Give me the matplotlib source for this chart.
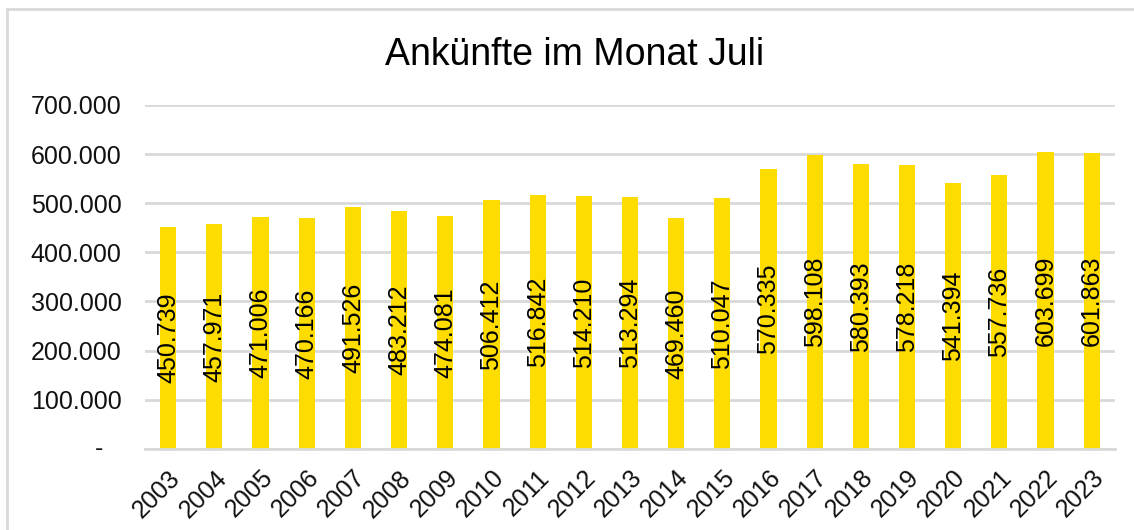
import matplotlib
matplotlib.use("Agg")
import matplotlib.pyplot as plt
from matplotlib.lines import Line2D
from matplotlib.ticker import FuncFormatter

plt.rcParams['font.family'] = ['Liberation Sans', 'DejaVu Sans']

years = [str(y) for y in range(2003, 2024)]
arrivals = [450739, 457971, 471006, 470166, 491526, 483212, 474081, 506412,
            516842, 514210, 513294, 469460, 510047, 570335, 598108, 580393,
            578218, 541394, 557736, 603699, 601863]
title = "Ankünfte im Monat Juli"

BAR_COLOR = '#FFDC00'
GRID_COLOR = '#D9D9D9'


def de_format(v):
    # German thousands separator
    return f"{int(round(v)):,}".replace(",", ".")


fig = plt.figure(figsize=(11.34, 5.30), dpi=100)
ax = fig.add_axes([0.128, 0.153, 0.855, 0.649])

x = range(len(years))
bars = ax.bar(x, arrivals, width=0.35, color=BAR_COLOR, zorder=2)
for rect, val in zip(bars, arrivals):
    ax.text(rect.get_x() + rect.get_width() / 2, val / 2, de_format(val),
            rotation=90, ha='center', va='center', fontsize=18, color='black', zorder=3)

ax.set_xlim(-0.5, len(years) - 0.5)
ax.set_ylim(0, 700000)
ax.set_yticks(range(0, 700001, 100000))
# zero is written separately as an accounting-style dash
ax.yaxis.set_major_formatter(FuncFormatter(lambda v, p: "" if v == 0 else de_format(v)))
ax.annotate("-", xy=(0, 0), xycoords=('axes fraction', 'data'), xytext=(-42, 0),
            textcoords='offset pixels', ha='right', va='center', fontsize=18, color='#111111')
ax.set_xticks(list(x))
ax.set_xticklabels(years, rotation=45, ha='right', rotation_mode='anchor')

ax.tick_params(axis='both', length=0, labelsize=18, colors='#111111')
ax.tick_params(axis='y', pad=17)
ax.tick_params(axis='x', pad=12)
ax.grid(axis='y', color=GRID_COLOR, linewidth=2, zorder=0)
for s in ['top', 'right', 'left']:
    ax.spines[s].set_visible(False)
ax.spines['bottom'].set_color(GRID_COLOR)
ax.spines['bottom'].set_linewidth(2)

fig.text(0.507, 0.896, title, ha='center', va='center', fontsize=27, color='black')

# chart frame (only top and left edges visible)
fig.add_artist(Line2D([7 / 1134, 7 / 1134], [0, 1 - 9 / 530], color=GRID_COLOR, linewidth=2,
                      transform=fig.transFigure))
fig.add_artist(Line2D([7 / 1134, 1], [1 - 9 / 530, 1 - 9 / 530], color=GRID_COLOR, linewidth=2,
                      transform=fig.transFigure))

fig.savefig("out.png", dpi=100)
